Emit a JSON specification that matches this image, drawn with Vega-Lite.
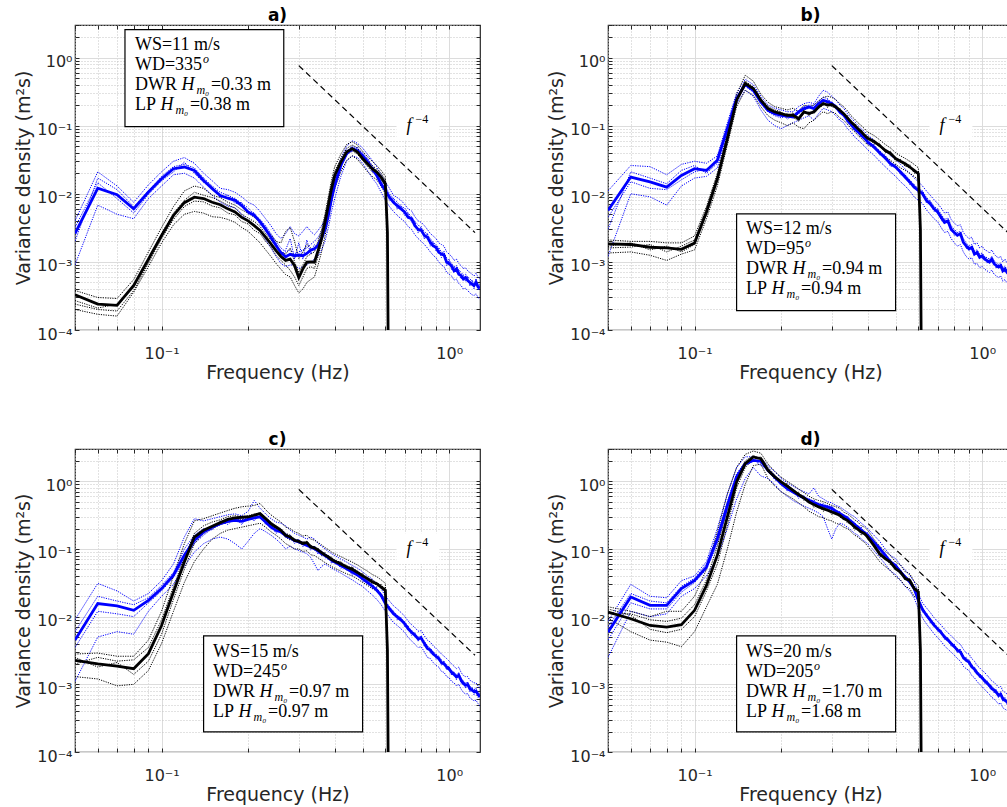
{
"$schema": "https://vega.github.io/schema/vega-lite/v6.json",
"background": "#ffffff",
"padding": {"left": 14, "top": 6, "right": 0, "bottom": 0},
"autosize": {"type": "pad"},
"columns": 2,
"spacing": {"row": 119, "column": 128},
"bounds": "flush",
"config": {
  "font": "DejaVu Sans",
  "view": {"stroke": "#262626", "strokeWidth": 1.2},
  "axis": {"domain": false, "labelFont": "DejaVu Sans", "labelFontSize": 16, "labelColor": "#262626", "titleFont": "DejaVu Sans", "titleFontSize": 19, "titleFontWeight": "normal", "titleColor": "#262626", "tickColor": "#262626", "tickSize": -4, "tickWidth": 1, "labelOverlap": false, "labelFlush": false, "gridWidth": 1},
  "axisX": {"labelPadding": 19, "titlePadding": 2},
  "axisY": {"labelPadding": 7, "titlePadding": 3, "labelOffset": 4},
  "title": {"font": "DejaVu Sans", "fontSize": 17, "fontWeight": "bold", "color": "#000000", "offset": -4, "frame": "group", "anchor": "middle"},
  "text": {"font": "Liberation Serif", "fontSize": 18, "align": "left", "baseline": "alphabetic", "color": "#000000"}
},
"datasets": {
"a": [
{"f":0.05,"d":2.6e-3,"d1":4e-3,"d2":9e-4,"d3":2e-3,"d4":3.2e-3,"l":3.3e-4,"l1":3.8e-4,"l2":2e-4,"l3":2.7e-4,"l4":2.4e-4},
{"f":0.06,"d":0.0121,"d1":0.021,"d2":6.8e-3,"d3":0.017,"d4":0.0145,"l":2.4e-4,"l1":3e-4,"l2":1.7e-4,"l3":2.1e-4,"l4":2e-4},
{"f":0.07,"d":9.7e-3,"d1":0.013,"d2":5e-3,"d3":0.0115,"d4":8.5e-3,"l":2.3e-4,"l1":2.9e-4,"l2":1.6e-4,"l3":2.4e-4,"l4":1.9e-4},
{"f":0.08,"d":6e-3,"d1":7.5e-3,"d2":4.3e-3,"d3":6.5e-3,"d4":5.2e-3,"l":4.5e-4,"l1":5.5e-4,"l2":3.6e-4,"l3":4.2e-4,"l4":3.8e-4},
{"f":0.09,"d":0.0106,"d1":0.0135,"d2":8.5e-3,"d3":0.011,"d4":9.8e-3,"l":1.1e-3,"l1":1.4e-3,"l2":8.5e-4,"l3":1e-3,"l4":9.5e-4},
{"f":0.1,"d":0.0166,"d1":0.021,"d2":0.013,"d3":0.018,"d4":0.0155,"l":2.44e-3,"l1":3.2e-3,"l2":1.9e-3,"l3":2.6e-3,"l4":2.2e-3},
{"f":0.11,"d":0.0233,"d1":0.03,"d2":0.019,"d3":0.025,"d4":0.021,"l":4.8e-3,"l1":6.5e-3,"l2":3.5e-3,"l3":5.2e-3,"l4":4.2e-3},
{"f":0.12,"d":0.0247,"d1":0.034,"d2":0.02,"d3":0.027,"d4":0.029,"l":7.4e-3,"l1":0.011,"l2":5e-3,"l3":8e-3,"l4":6.5e-3},
{"f":0.13,"d":0.022,"d1":0.028,"d2":0.017,"d3":0.024,"d4":0.02,"l":8.9e-3,"l1":0.013,"l2":5.5e-3,"l3":0.0105,"l4":7.8e-3},
{"f":0.14,"d":0.0157,"d1":0.02,"d2":0.0125,"d3":0.017,"d4":0.0145,"l":8.5e-3,"l1":0.012,"l2":5.2e-3,"l3":9.5e-3,"l4":7.6e-3},
{"f":0.15,"d":0.0119,"d1":0.0155,"d2":9.5e-3,"d3":0.013,"d4":0.0125,"l":7.5e-3,"l1":9.5e-3,"l2":4.6e-3,"l3":8.8e-3,"l4":6.6e-3},
{"f":0.16,"d":9.4e-3,"d1":0.012,"d2":7.5e-3,"d3":0.0105,"d4":8.8e-3,"l":6.9e-3,"l1":8.8e-3,"l2":4.5e-3,"l3":7.8e-3,"l4":6.2e-3},
{"f":0.17,"d":8.6e-3,"d1":0.0115,"d2":6.6e-3,"d3":9.5e-3,"d4":9.5e-3,"l":6e-3,"l1":7.5e-3,"l2":4.2e-3,"l3":6.8e-3,"l4":5.2e-3},
{"f":0.18,"d":8e-3,"d1":0.0105,"d2":6.2e-3,"d3":8.5e-3,"d4":7.2e-3,"l":5.4e-3,"l1":6.8e-3,"l2":3.8e-3,"l3":6.2e-3,"l4":4.9e-3},
{"f":0.19,"d":6.7e-3,"d1":9e-3,"d2":5e-3,"d3":7.2e-3,"d4":7.4e-3,"l":4.5e-3,"l1":5.8e-3,"l2":3.2e-3,"l3":5e-3,"l4":3.9e-3},
{"f":0.2,"d":5.4e-3,"d1":7.5e-3,"d2":4e-3,"d3":6.2e-3,"d4":5e-3,"l":4e-3,"l1":5.2e-3,"l2":2.8e-3,"l3":4.4e-3,"l4":3.6e-3},
{"f":0.21,"d":4.8e-3,"d1":6.8e-3,"d2":3.4e-3,"d3":5e-3,"d4":5.3e-3,"l":3.4e-3,"l1":4.5e-3,"l2":2.3e-3,"l3":3.9e-3,"l4":2.9e-3},
{"f":0.22,"d":3.9e-3,"d1":5.5e-3,"d2":2.8e-3,"d3":4.2e-3,"d4":3.5e-3,"l":2.9e-3,"l1":3.9e-3,"l2":1.9e-3,"l3":3.3e-3,"l4":2.6e-3},
{"f":0.23,"d":3e-3,"d1":4.3e-3,"d2":2.1e-3,"d3":3.4e-3,"d4":3.3e-3,"l":2.3e-3,"l1":3.1e-3,"l2":1.5e-3,"l3":2.6e-3,"l4":2e-3},
{"f":0.24,"d":2.3e-3,"d1":3.4e-3,"d2":1.6e-3,"d3":2.6e-3,"d4":2.1e-3,"l":1.84e-3,"l1":2.5e-3,"l2":1.2e-3,"l3":2.1e-3,"l4":1.65e-3},
{"f":0.25,"d":1.74e-3,"d1":2.6e-3,"d2":1.2e-3,"d3":2e-3,"d4":1.9e-3,"l":1.46e-3,"l1":2e-3,"l2":9.5e-4,"l3":1.7e-3,"l4":1.25e-3},
{"f":0.26,"d":1.37e-3,"d1":2.2e-3,"d2":9.5e-4,"d3":1.6e-3,"d4":1.25e-3,"l":1.2e-3,"l1":1.9e-3,"l2":7.8e-4,"l3":1.4e-3,"l4":1.05e-3},
{"f":0.27,"d":1.19e-3,"d1":2.6e-3,"d2":8.5e-4,"d3":1.4e-3,"d4":1.5e-3,"l":1.05e-3,"l1":2.8e-3,"l2":6.5e-4,"l3":1.3e-3,"l4":9e-4},
{"f":0.28,"d":1.29e-3,"d1":3.3e-3,"d2":9e-4,"d3":1.5e-3,"d4":2.2e-3,"l":1.1e-3,"l1":3.2e-3,"l2":6e-4,"l3":1.6e-3,"l4":7.5e-4},
{"f":0.29,"d":1.23e-3,"d1":2.6e-3,"d2":9e-4,"d3":1.3e-3,"d4":1.1e-3,"l":8.8e-4,"l1":2e-3,"l2":4.5e-4,"l3":1e-3,"l4":6e-4},
{"f":0.3,"d":1.26e-3,"d1":2.4e-3,"d2":8e-4,"d3":1.4e-3,"d4":1.9e-3,"l":5.9e-4,"l1":1.1e-3,"l2":3.5e-4,"l3":7e-4,"l4":4.5e-4},
{"f":0.31,"d":1.23e-3,"d1":2.8e-3,"d2":8.5e-4,"d3":1.5e-3,"d4":1.1e-3,"l":7.9e-4,"l1":1.4e-3,"l2":4e-4,"l3":9e-4,"l4":6e-4},
{"f":0.32,"d":1.33e-3,"d1":3.3e-3,"d2":9e-4,"d3":1.6e-3,"d4":2.1e-3,"l":9.9e-4,"l1":1.8e-3,"l2":5e-4,"l3":1.2e-3,"l4":8e-4},
{"f":0.33,"d":1.49e-3,"d1":2.8e-3,"d2":1e-3,"d3":1.8e-3,"d4":1.3e-3,"l":1e-3,"l1":1.6e-3,"l2":5.5e-4,"l3":1.3e-3,"l4":8.5e-4},
{"f":0.34,"d":1.56e-3,"d1":2.5e-3,"d2":1.1e-3,"d3":2e-3,"d4":1.8e-3,"l":9.9e-4,"l1":1.5e-3,"l2":6e-4,"l3":1.4e-3,"l4":8e-4},
{"f":0.35,"d":1.74e-3,"d1":2.9e-3,"d2":1.2e-3,"d3":2.3e-3,"d4":1.6e-3,"l":1.46e-3,"l1":2e-3,"l2":9e-4,"l3":1.9e-3,"l4":1.2e-3},
{"f":0.36,"d":2.2e-3,"d1":3.4e-3,"d2":1.5e-3,"d3":2.8e-3,"d4":2.5e-3,"l":2.2e-3,"l1":3e-3,"l2":1.4e-3,"l3":2.7e-3,"l4":1.9e-3},
{"f":0.37,"d":3e-3,"d1":4.2e-3,"d2":2e-3,"d3":3.6e-3,"d4":2.7e-3,"l":3.8e-3,"l1":5e-3,"l2":2.4e-3,"l3":4.5e-3,"l4":3.2e-3},
{"f":0.38,"d":4.8e-3,"d1":6.5e-3,"d2":3.2e-3,"d3":5.5e-3,"d4":5.4e-3,"l":6.7e-3,"l1":9e-3,"l2":4.2e-3,"l3":8e-3,"l4":5.8e-3},
{"f":0.39,"d":8.5e-3,"d1":0.011,"d2":5.5e-3,"d3":9.5e-3,"d4":7.6e-3,"l":0.0119,"l1":0.016,"l2":7.5e-3,"l3":0.014,"l4":0.0105},
{"f":0.4,"d":0.0132,"d1":0.017,"d2":8.5e-3,"d3":0.015,"d4":0.0148,"l":0.0186,"l1":0.025,"l2":0.012,"l3":0.021,"l4":0.0165},
{"f":0.42,"d":0.026,"d1":0.033,"d2":0.018,"d3":0.029,"d4":0.023,"l":0.0292,"l1":0.038,"l2":0.021,"l3":0.033,"l4":0.026},
{"f":0.44,"d":0.0388,"d1":0.05,"d2":0.03,"d3":0.042,"d4":0.044,"l":0.041,"l1":0.053,"l2":0.031,"l3":0.046,"l4":0.037},
{"f":0.46,"d":0.046,"d1":0.06,"d2":0.036,"d3":0.05,"d4":0.041,"l":0.046,"l1":0.058,"l2":0.036,"l3":0.052,"l4":0.043},
{"f":0.48,"d":0.043,"d1":0.055,"d2":0.034,"d3":0.046,"d4":0.049,"l":0.041,"l1":0.052,"l2":0.032,"l3":0.047,"l4":0.038},
{"f":0.5,"d":0.0366,"d1":0.047,"d2":0.028,"d3":0.04,"d4":0.032,"l":0.0329,"l1":0.042,"l2":0.026,"l3":0.037,"l4":0.031},
{"f":0.52,"d":0.0292,"d1":0.038,"d2":0.022,"d3":0.033,"d4":0.033,"l":0.0276,"l1":0.035,"l2":0.021,"l3":0.031,"l4":0.025},
{"f":0.54,"d":0.0233,"d1":0.031,"d2":0.017,"d3":0.026,"d4":0.021,"l":0.0233,"l1":0.03,"l2":0.018,"l3":0.026,"l4":0.021},
{"f":0.56,"d":0.0185,"d1":0.025,"d2":0.014,"d3":0.021,"d4":0.021,"l":0.0208,"l1":0.026,"l2":0.016,"l3":0.023,"l4":0.019},
{"f":0.58,"d":0.014,"d1":0.019,"d2":0.0105,"d3":0.016,"d4":0.0125,"l":0.0175,"l1":0.022,"l2":0.013,"l3":0.02,"l4":0.016},
{"f":0.6,"d":0.0112,"d1":0.015,"d2":8e-3,"d3":0.013,"d4":0.0128,"l":0.014,"l1":0.018,"l2":0.01,"l3":0.016,"l4":0.013},
{"f":0.61,"l":2.7e-3,"l1":3.2e-3,"l2":2e-3,"l3":2.9e-3,"l4":2.6e-3},
{"f":0.62,"d":8.9e-3,"d1":0.012,"d2":6.5e-3,"d3":0.01,"d4":7.9e-3,"l":1e-7,"l1":1e-7,"l2":1e-7,"l3":1e-7,"l4":1e-7},
{"f":0.64,"d":7.5e-3,"d1":9.5e-3,"d2":5.5e-3,"d3":8.5e-3,"d4":8.6e-3},
{"f":0.66,"d":6.7e-3,"d1":8.8e-3,"d2":4.8e-3,"d3":7.5e-3,"d4":5.9e-3},
{"f":0.68,"d":6e-3,"d1":8e-3,"d2":4.3e-3,"d3":6.4e-3,"d4":6.9e-3},
{"f":0.7,"d":5.4e-3,"d1":7e-3,"d2":3.9e-3,"d3":6.2e-3,"d4":4.8e-3},
{"f":0.72,"d":4.5e-3,"d1":6e-3,"d2":3.3e-3,"d3":5.2e-3,"d4":5.2e-3},
{"f":0.74,"d":4.3e-3,"d1":5.6e-3,"d2":3e-3,"d3":4.6e-3,"d4":3.8e-3},
{"f":0.76,"d":3.4e-3,"d1":4.6e-3,"d2":2.5e-3,"d3":3.9e-3,"d4":3.9e-3},
{"f":0.78,"d":3e-3,"d1":4e-3,"d2":2.2e-3,"d3":3.5e-3,"d4":2.65e-3},
{"f":0.8,"d":2.9e-3,"d1":3.8e-3,"d2":2e-3,"d3":3.1e-3,"d4":3.3e-3},
{"f":0.82,"d":2.45e-3,"d1":3.4e-3,"d2":1.8e-3,"d3":2.8e-3,"d4":2.15e-3},
{"f":0.84,"d":2.3e-3,"d1":3e-3,"d2":1.6e-3,"d3":2.5e-3,"d4":2.65e-3},
{"f":0.86,"d":1.93e-3,"d1":2.6e-3,"d2":1.4e-3,"d3":2.2e-3,"d4":1.7e-3},
{"f":0.88,"d":1.72e-3,"d1":2.4e-3,"d2":1.25e-3,"d3":1.9e-3,"d4":1.98e-3},
{"f":0.9,"d":1.64e-3,"d1":2.2e-3,"d2":1.15e-3,"d3":1.8e-3,"d4":1.45e-3},
{"f":0.92,"d":1.38e-3,"d1":1.9e-3,"d2":1e-3,"d3":1.6e-3,"d4":1.59e-3},
{"f":0.94,"d":1.3e-3,"d1":1.8e-3,"d2":9e-4,"d3":1.4e-3,"d4":1.15e-3},
{"f":0.96,"d":1.25e-3,"d1":1.7e-3,"d2":8.5e-4,"d3":1.35e-3,"d4":1.44e-3},
{"f":0.98,"d":9.9e-4,"d1":1.4e-3,"d2":7e-4,"d3":1.15e-3,"d4":8.8e-4},
{"f":1,"d":9.4e-4,"d1":1.3e-3,"d2":6.6e-4,"d3":1.05e-3,"d4":1.08e-3},
{"f":1.02,"d":8.7e-4,"d1":1.2e-3,"d2":6.2e-4,"d3":9.5e-4,"d4":7.7e-4},
{"f":1.04,"d":7.4e-4,"d1":1.05e-3,"d2":5.4e-4,"d3":8.5e-4,"d4":8.5e-4},
{"f":1.06,"d":7.9e-4,"d1":1.1e-3,"d2":5.6e-4,"d3":8.8e-4,"d4":7e-4},
{"f":1.08,"d":6.6e-4,"d1":9.5e-4,"d2":4.8e-4,"d3":7.6e-4,"d4":7.6e-4},
{"f":1.1,"d":6.3e-4,"d1":8.8e-4,"d2":4.5e-4,"d3":7e-4,"d4":5.6e-4},
{"f":1.12,"d":5.6e-4,"d1":8e-4,"d2":4e-4,"d3":6.4e-4,"d4":6.4e-4},
{"f":1.14,"d":5.9e-4,"d1":8.2e-4,"d2":4.1e-4,"d3":6.6e-4,"d4":5.2e-4},
{"f":1.16,"d":5.3e-4,"d1":7.4e-4,"d2":3.8e-4,"d3":6e-4,"d4":6.1e-4},
{"f":1.18,"d":5e-4,"d1":7e-4,"d2":3.5e-4,"d3":5.6e-4,"d4":4.4e-4},
{"f":1.2,"d":4.7e-4,"d1":6.6e-4,"d2":3.3e-4,"d3":5.3e-4,"d4":5.4e-4},
{"f":1.22,"d":4.5e-4,"d1":6.2e-4,"d2":3.2e-4,"d3":5e-4,"d4":4e-4},
{"f":1.24,"d":5e-4,"d1":6.8e-4,"d2":3.4e-4,"d3":5.4e-4,"d4":5.7e-4},
{"f":1.26,"d":4.3e-4,"d1":6e-4,"d2":3e-4,"d3":4.8e-4,"d4":3.8e-4},
{"f":1.28,"d":4.1e-4,"d1":5.6e-4,"d2":2.9e-4,"d3":4.5e-4,"d4":4.7e-4}
],
"b": [
{"f":0.05,"d":5.7e-3,"d1":0.011,"d2":1.2e-3,"d3":4.5e-3,"d4":3e-3,"l":1.84e-3,"l1":2.1e-3,"l2":1.35e-3,"l3":1.7e-3,"l4":1.6e-3},
{"f":0.06,"d":0.0176,"d1":0.026,"d2":0.01,"d3":0.015,"d4":0.021,"l":1.8e-3,"l1":2e-3,"l2":1.4e-3,"l3":1.9e-3,"l4":1.65e-3},
{"f":0.07,"d":0.0149,"d1":0.025,"d2":9e-3,"d3":0.012,"d4":0.017,"l":1.64e-3,"l1":2e-3,"l2":1.25e-3,"l3":1.5e-3,"l4":1.8e-3},
{"f":0.08,"d":0.0125,"d1":0.019,"d2":6.8e-3,"d3":0.0115,"d4":0.014,"l":1.6e-3,"l1":1.9e-3,"l2":1.05e-3,"l3":1.7e-3,"l4":1.4e-3},
{"f":0.09,"d":0.0186,"d1":0.027,"d2":0.013,"d3":0.016,"d4":0.022,"l":1.53e-3,"l1":1.9e-3,"l2":1.3e-3,"l3":1.4e-3,"l4":1.7e-3},
{"f":0.1,"d":0.0233,"d1":0.03,"d2":0.017,"d3":0.021,"d4":0.026,"l":1.9e-3,"l1":2.4e-3,"l2":1.5e-3,"l3":1.8e-3,"l4":2.1e-3},
{"f":0.11,"d":0.022,"d1":0.028,"d2":0.018,"d3":0.023,"d4":0.02,"l":5.4e-3,"l1":6.5e-3,"l2":4.3e-3,"l3":5e-3,"l4":6e-3},
{"f":0.12,"d":0.031,"d1":0.036,"d2":0.024,"d3":0.03,"d4":0.028,"l":0.0166,"l1":0.02,"l2":0.013,"l3":0.016,"l4":0.018},
{"f":0.13,"d":0.09,"d1":0.11,"d2":0.075,"d3":0.085,"d4":0.095,"l":0.064,"l1":0.075,"l2":0.052,"l3":0.062,"l4":0.07},
{"f":0.14,"d":0.25,"d1":0.3,"d2":0.21,"d3":0.24,"d4":0.27,"l":0.236,"l1":0.29,"l2":0.19,"l3":0.23,"l4":0.25},
{"f":0.15,"d":0.4,"d1":0.48,"d2":0.33,"d3":0.38,"d4":0.43,"l":0.415,"l1":0.55,"l2":0.33,"l3":0.4,"l4":0.45},
{"f":0.16,"d":0.33,"d1":0.4,"d2":0.27,"d3":0.31,"d4":0.35,"l":0.35,"l1":0.45,"l2":0.28,"l3":0.34,"l4":0.37},
{"f":0.17,"d":0.223,"d1":0.27,"d2":0.17,"d3":0.21,"d4":0.24,"l":0.236,"l1":0.29,"l2":0.19,"l3":0.22,"l4":0.25},
{"f":0.18,"d":0.168,"d1":0.2,"d2":0.12,"d3":0.16,"d4":0.18,"l":0.178,"l1":0.22,"l2":0.14,"l3":0.17,"l4":0.19},
{"f":0.19,"d":0.15,"d1":0.18,"d2":0.1,"d3":0.14,"d4":0.16,"l":0.159,"l1":0.19,"l2":0.12,"l3":0.15,"l4":0.17},
{"f":0.2,"d":0.142,"d1":0.17,"d2":0.09,"d3":0.13,"d4":0.15,"l":0.15,"l1":0.18,"l2":0.11,"l3":0.14,"l4":0.16},
{"f":0.21,"d":0.138,"d1":0.16,"d2":0.1,"d3":0.14,"d4":0.125,"l":0.142,"l1":0.17,"l2":0.1,"l3":0.15,"l4":0.13},
{"f":0.22,"d":0.134,"d1":0.16,"d2":0.11,"d3":0.13,"d4":0.14,"l":0.142,"l1":0.18,"l2":0.11,"l3":0.13,"l4":0.155},
{"f":0.23,"d":0.159,"d1":0.19,"d2":0.12,"d3":0.15,"d4":0.17,"l":0.127,"l1":0.16,"l2":0.095,"l3":0.12,"l4":0.115},
{"f":0.24,"d":0.178,"d1":0.21,"d2":0.13,"d3":0.17,"d4":0.19,"l":0.159,"l1":0.2,"l2":0.09,"l3":0.15,"l4":0.17},
{"f":0.25,"d":0.188,"d1":0.22,"d2":0.14,"d3":0.18,"d4":0.2,"l":0.15,"l1":0.19,"l2":0.11,"l3":0.16,"l4":0.14},
{"f":0.26,"d":0.178,"d1":0.21,"d2":0.12,"d3":0.19,"d4":0.2,"l":0.159,"l1":0.2,"l2":0.12,"l3":0.15,"l4":0.17},
{"f":0.27,"d":0.211,"d1":0.27,"d2":0.15,"d3":0.2,"d4":0.23,"l":0.188,"l1":0.23,"l2":0.14,"l3":0.18,"l4":0.2},
{"f":0.28,"d":0.236,"d1":0.33,"d2":0.18,"d3":0.22,"d4":0.26,"l":0.211,"l1":0.26,"l2":0.16,"l3":0.2,"l4":0.23},
{"f":0.29,"d":0.223,"d1":0.31,"d2":0.17,"d3":0.24,"d4":0.25,"l":0.2,"l1":0.27,"l2":0.15,"l3":0.21,"l4":0.185},
{"f":0.3,"d":0.211,"d1":0.27,"d2":0.16,"d3":0.22,"d4":0.2,"l":0.204,"l1":0.26,"l2":0.16,"l3":0.19,"l4":0.22},
{"f":0.31,"d":0.188,"d1":0.24,"d2":0.14,"d3":0.19,"d4":0.2,"l":0.188,"l1":0.24,"l2":0.15,"l3":0.18,"l4":0.175},
{"f":0.32,"d":0.159,"d1":0.2,"d2":0.12,"d3":0.17,"d4":0.15,"l":0.168,"l1":0.21,"l2":0.13,"l3":0.16,"l4":0.18},
{"f":0.33,"d":0.142,"d1":0.18,"d2":0.11,"d3":0.15,"d4":0.15,"l":0.15,"l1":0.19,"l2":0.12,"l3":0.145,"l4":0.138},
{"f":0.34,"d":0.12,"d1":0.15,"d2":0.09,"d3":0.125,"d4":0.11,"l":0.13,"l1":0.165,"l2":0.105,"l3":0.125,"l4":0.14},
{"f":0.35,"d":0.104,"d1":0.13,"d2":0.08,"d3":0.11,"d4":0.108,"l":0.113,"l1":0.14,"l2":0.09,"l3":0.11,"l4":0.104},
{"f":0.36,"d":0.09,"d1":0.115,"d2":0.068,"d3":0.095,"d4":0.085,"l":0.101,"l1":0.125,"l2":0.082,"l3":0.098,"l4":0.108},
{"f":0.37,"d":0.081,"d1":0.1,"d2":0.062,"d3":0.085,"d4":0.087,"l":0.09,"l1":0.11,"l2":0.072,"l3":0.088,"l4":0.083},
{"f":0.38,"d":0.072,"d1":0.09,"d2":0.055,"d3":0.075,"d4":0.067,"l":0.081,"l1":0.1,"l2":0.065,"l3":0.078,"l4":0.087},
{"f":0.39,"d":0.065,"d1":0.082,"d2":0.05,"d3":0.068,"d4":0.069,"l":0.072,"l1":0.09,"l2":0.058,"l3":0.07,"l4":0.066},
{"f":0.4,"d":0.0575,"d1":0.072,"d2":0.044,"d3":0.06,"d4":0.053,"l":0.065,"l1":0.08,"l2":0.052,"l3":0.063,"l4":0.07},
{"f":0.42,"d":0.0487,"d1":0.062,"d2":0.037,"d3":0.051,"d4":0.053,"l":0.059,"l1":0.072,"l2":0.048,"l3":0.056,"l4":0.054},
{"f":0.44,"d":0.0401,"d1":0.051,"d2":0.03,"d3":0.043,"d4":0.037,"l":0.051,"l1":0.062,"l2":0.041,"l3":0.049,"l4":0.055},
{"f":0.46,"d":0.0335,"d1":0.043,"d2":0.025,"d3":0.036,"d4":0.037,"l":0.0435,"l1":0.053,"l2":0.035,"l3":0.042,"l4":0.04},
{"f":0.48,"d":0.0276,"d1":0.036,"d2":0.021,"d3":0.029,"d4":0.025,"l":0.039,"l1":0.047,"l2":0.031,"l3":0.037,"l4":0.042},
{"f":0.5,"d":0.0247,"d1":0.032,"d2":0.018,"d3":0.026,"d4":0.027,"l":0.033,"l1":0.04,"l2":0.027,"l3":0.032,"l4":0.03},
{"f":0.52,"d":0.0208,"d1":0.027,"d2":0.015,"d3":0.022,"d4":0.019,"l":0.03,"l1":0.036,"l2":0.024,"l3":0.029,"l4":0.032},
{"f":0.54,"d":0.0175,"d1":0.023,"d2":0.013,"d3":0.019,"d4":0.019,"l":0.0276,"l1":0.033,"l2":0.022,"l3":0.026,"l4":0.025},
{"f":0.56,"d":0.0149,"d1":0.02,"d2":0.011,"d3":0.016,"d4":0.0136,"l":0.0247,"l1":0.03,"l2":0.02,"l3":0.024,"l4":0.027},
{"f":0.58,"d":0.0125,"d1":0.017,"d2":9e-3,"d3":0.0135,"d4":0.0137,"l":0.022,"l1":0.027,"l2":0.018,"l3":0.021,"l4":0.02},
{"f":0.6,"d":0.0112,"d1":0.015,"d2":8e-3,"d3":0.012,"d4":0.0102,"l":0.0197,"l1":0.024,"l2":0.016,"l3":0.019,"l4":0.021},
{"f":0.61,"l":3e-3,"l1":3.5e-3,"l2":2.5e-3,"l3":3e-3,"l4":3e-3},
{"f":0.62,"d":0.01,"d1":0.013,"d2":7.2e-3,"d3":0.011,"d4":0.011,"l":1e-7,"l1":1e-7,"l2":1e-7,"l3":1e-7,"l4":1e-7},
{"f":0.64,"d":8e-3,"d1":0.011,"d2":5.8e-3,"d3":8.8e-3,"d4":7.3e-3},
{"f":0.66,"d":7.1e-3,"d1":9.5e-3,"d2":5e-3,"d3":7.8e-3,"d4":7.9e-3},
{"f":0.68,"d":6e-3,"d1":8.2e-3,"d2":4.3e-3,"d3":6.5e-3,"d4":5.5e-3},
{"f":0.7,"d":5.4e-3,"d1":7.2e-3,"d2":3.9e-3,"d3":6e-3,"d4":6e-3},
{"f":0.72,"d":4.5e-3,"d1":6.2e-3,"d2":3.2e-3,"d3":5e-3,"d4":4.1e-3},
{"f":0.74,"d":3.8e-3,"d1":5.2e-3,"d2":2.7e-3,"d3":4.2e-3,"d4":4.2e-3},
{"f":0.76,"d":4e-3,"d1":5.4e-3,"d2":2.8e-3,"d3":4.4e-3,"d4":3.6e-3},
{"f":0.78,"d":3e-3,"d1":4.2e-3,"d2":2.2e-3,"d3":3.4e-3,"d4":3.3e-3},
{"f":0.8,"d":2.7e-3,"d1":3.7e-3,"d2":1.9e-3,"d3":3e-3,"d4":2.45e-3},
{"f":0.82,"d":2.45e-3,"d1":3.4e-3,"d2":1.7e-3,"d3":2.7e-3,"d4":2.7e-3},
{"f":0.84,"d":2.6e-3,"d1":3.5e-3,"d2":1.8e-3,"d3":2.8e-3,"d4":2.35e-3},
{"f":0.86,"d":1.93e-3,"d1":2.7e-3,"d2":1.4e-3,"d3":2.2e-3,"d4":2.1e-3},
{"f":0.88,"d":1.72e-3,"d1":2.4e-3,"d2":1.2e-3,"d3":1.9e-3,"d4":1.56e-3},
{"f":0.9,"d":1.55e-3,"d1":2.2e-3,"d2":1.1e-3,"d3":1.7e-3,"d4":1.7e-3},
{"f":0.92,"d":1.64e-3,"d1":2.3e-3,"d2":1.15e-3,"d3":1.8e-3,"d4":1.48e-3},
{"f":0.94,"d":1.3e-3,"d1":1.8e-3,"d2":9.2e-4,"d3":1.45e-3,"d4":1.43e-3},
{"f":0.96,"d":1.38e-3,"d1":1.9e-3,"d2":9.5e-4,"d3":1.5e-3,"d4":1.25e-3},
{"f":0.98,"d":1.17e-3,"d1":1.6e-3,"d2":8.2e-4,"d3":1.3e-3,"d4":1.29e-3},
{"f":1,"d":1.23e-3,"d1":1.7e-3,"d2":8.6e-4,"d3":1.35e-3,"d4":1.1e-3},
{"f":1.02,"d":1.1e-3,"d1":1.5e-3,"d2":7.8e-4,"d3":1.2e-3,"d4":1.21e-3},
{"f":1.04,"d":1.05e-3,"d1":1.45e-3,"d2":7.4e-4,"d3":1.15e-3,"d4":9.5e-4},
{"f":1.06,"d":9.9e-4,"d1":1.35e-3,"d2":7e-4,"d3":1.1e-3,"d4":1.09e-3},
{"f":1.08,"d":1.1e-3,"d1":1.5e-3,"d2":7.6e-4,"d3":1.2e-3,"d4":9.9e-4},
{"f":1.1,"d":9.4e-4,"d1":1.3e-3,"d2":6.6e-4,"d3":1.05e-3,"d4":1.03e-3},
{"f":1.12,"d":8.8e-4,"d1":1.2e-3,"d2":6.2e-4,"d3":9.6e-4,"d4":8e-4},
{"f":1.14,"d":8.4e-4,"d1":1.15e-3,"d2":5.9e-4,"d3":9.2e-4,"d4":9.2e-4},
{"f":1.16,"d":8.8e-4,"d1":1.2e-3,"d2":6.2e-4,"d3":9.6e-4,"d4":7.9e-4},
{"f":1.18,"d":7.4e-4,"d1":1e-3,"d2":5.2e-4,"d3":8.2e-4,"d4":8.1e-4},
{"f":1.2,"d":7.9e-4,"d1":1.1e-3,"d2":5.5e-4,"d3":8.6e-4,"d4":7.1e-4},
{"f":1.22,"d":7e-4,"d1":9.6e-4,"d2":4.9e-4,"d3":7.7e-4,"d4":7.7e-4},
{"f":1.24,"d":6.5e-4,"d1":9e-4,"d2":4.6e-4,"d3":7.2e-4,"d4":5.9e-4},
{"f":1.26,"d":6.8e-4,"d1":9.3e-4,"d2":4.8e-4,"d3":7.4e-4,"d4":7.5e-4},
{"f":1.28,"d":6e-4,"d1":8.2e-4,"d2":4.2e-4,"d3":6.6e-4,"d4":5.4e-4}
],
"c": [
{"f":0.05,"d":4.5e-3,"d1":9e-3,"d2":1.1e-3,"d3":3.5e-3,"d4":6e-3,"l":2.26e-3,"l1":2.8e-3,"l2":1.3e-3,"l3":2e-3,"l4":2.5e-3},
{"f":0.06,"d":0.0156,"d1":0.031,"d2":5e-3,"d3":0.012,"d4":0.02,"l":2e-3,"l1":2.9e-3,"l2":1.2e-3,"l3":2.5e-3,"l4":1.8e-3},
{"f":0.07,"d":0.0144,"d1":0.024,"d2":6e-3,"d3":0.011,"d4":0.017,"l":1.86e-3,"l1":2.6e-3,"l2":9.5e-4,"l3":2.2e-3,"l4":2.1e-3},
{"f":0.08,"d":0.0124,"d1":0.017,"d2":5.5e-3,"d3":0.01,"d4":0.015,"l":1.7e-3,"l1":2.6e-3,"l2":1e-3,"l3":2.3e-3,"l4":1.4e-3},
{"f":0.09,"d":0.0174,"d1":0.022,"d2":0.012,"d3":0.016,"d4":0.019,"l":2.84e-3,"l1":4.5e-3,"l2":1.6e-3,"l3":3.5e-3,"l4":2.2e-3},
{"f":0.1,"d":0.026,"d1":0.034,"d2":0.02,"d3":0.024,"d4":0.029,"l":7.4e-3,"l1":0.012,"l2":4e-3,"l3":9e-3,"l4":5.5e-3},
{"f":0.11,"d":0.041,"d1":0.06,"d2":0.03,"d3":0.038,"d4":0.045,"l":0.0232,"l1":0.04,"l2":0.012,"l3":0.028,"l4":0.018},
{"f":0.12,"d":0.081,"d1":0.15,"d2":0.055,"d3":0.07,"d4":0.1,"l":0.064,"l1":0.12,"l2":0.032,"l3":0.075,"l4":0.05},
{"f":0.13,"d":0.134,"d1":0.28,"d2":0.09,"d3":0.12,"d4":0.16,"l":0.15,"l1":0.26,"l2":0.065,"l3":0.17,"l4":0.12},
{"f":0.14,"d":0.178,"d1":0.26,"d2":0.12,"d3":0.16,"d4":0.2,"l":0.189,"l1":0.28,"l2":0.1,"l3":0.22,"l4":0.17},
{"f":0.15,"d":0.211,"d1":0.28,"d2":0.14,"d3":0.2,"d4":0.19,"l":0.216,"l1":0.31,"l2":0.14,"l3":0.25,"l4":0.2},
{"f":0.16,"d":0.237,"d1":0.3,"d2":0.15,"d3":0.23,"d4":0.26,"l":0.245,"l1":0.34,"l2":0.17,"l3":0.27,"l4":0.23},
{"f":0.17,"d":0.256,"d1":0.32,"d2":0.14,"d3":0.25,"d4":0.23,"l":0.274,"l1":0.37,"l2":0.19,"l3":0.3,"l4":0.25},
{"f":0.18,"d":0.265,"d1":0.33,"d2":0.12,"d3":0.27,"d4":0.29,"l":0.287,"l1":0.4,"l2":0.2,"l3":0.31,"l4":0.27},
{"f":0.19,"d":0.256,"d1":0.31,"d2":0.1,"d3":0.28,"d4":0.23,"l":0.294,"l1":0.42,"l2":0.21,"l3":0.3,"l4":0.27},
{"f":0.2,"d":0.274,"d1":0.36,"d2":0.13,"d3":0.29,"d4":0.3,"l":0.297,"l1":0.43,"l2":0.22,"l3":0.31,"l4":0.28},
{"f":0.21,"d":0.287,"d1":0.52,"d2":0.17,"d3":0.3,"d4":0.26,"l":0.315,"l1":0.44,"l2":0.23,"l3":0.33,"l4":0.29},
{"f":0.22,"d":0.297,"d1":0.4,"d2":0.2,"d3":0.31,"d4":0.33,"l":0.333,"l1":0.47,"l2":0.24,"l3":0.34,"l4":0.3},
{"f":0.23,"d":0.251,"d1":0.33,"d2":0.18,"d3":0.26,"d4":0.23,"l":0.281,"l1":0.38,"l2":0.21,"l3":0.29,"l4":0.26},
{"f":0.24,"d":0.211,"d1":0.28,"d2":0.16,"d3":0.22,"d4":0.23,"l":0.237,"l1":0.32,"l2":0.18,"l3":0.25,"l4":0.22},
{"f":0.25,"d":0.189,"d1":0.25,"d2":0.14,"d3":0.2,"d4":0.17,"l":0.211,"l1":0.28,"l2":0.16,"l3":0.22,"l4":0.2},
{"f":0.26,"d":0.178,"d1":0.24,"d2":0.12,"d3":0.19,"d4":0.195,"l":0.189,"l1":0.25,"l2":0.14,"l3":0.2,"l4":0.175},
{"f":0.27,"d":0.159,"d1":0.22,"d2":0.1,"d3":0.17,"d4":0.145,"l":0.159,"l1":0.21,"l2":0.12,"l3":0.17,"l4":0.15},
{"f":0.28,"d":0.145,"d1":0.19,"d2":0.11,"d3":0.15,"d4":0.16,"l":0.15,"l1":0.2,"l2":0.11,"l3":0.16,"l4":0.135},
{"f":0.29,"d":0.134,"d1":0.17,"d2":0.1,"d3":0.14,"d4":0.12,"l":0.134,"l1":0.18,"l2":0.1,"l3":0.14,"l4":0.14},
{"f":0.3,"d":0.127,"d1":0.16,"d2":0.095,"d3":0.13,"d4":0.14,"l":0.13,"l1":0.17,"l2":0.1,"l3":0.135,"l4":0.12},
{"f":0.31,"d":0.12,"d1":0.15,"d2":0.09,"d3":0.125,"d4":0.108,"l":0.12,"l1":0.155,"l2":0.092,"l3":0.125,"l4":0.13},
{"f":0.32,"d":0.113,"d1":0.14,"d2":0.085,"d3":0.12,"d4":0.125,"l":0.124,"l1":0.16,"l2":0.094,"l3":0.13,"l4":0.112},
{"f":0.33,"d":0.107,"d1":0.15,"d2":0.075,"d3":0.11,"d4":0.096,"l":0.107,"l1":0.14,"l2":0.082,"l3":0.112,"l4":0.115},
{"f":0.34,"d":0.101,"d1":0.14,"d2":0.06,"d3":0.105,"d4":0.112,"l":0.104,"l1":0.135,"l2":0.08,"l3":0.108,"l4":0.095},
{"f":0.35,"d":0.093,"d1":0.12,"d2":0.048,"d3":0.098,"d4":0.084,"l":0.096,"l1":0.125,"l2":0.074,"l3":0.1,"l4":0.104},
{"f":0.36,"d":0.085,"d1":0.11,"d2":0.055,"d3":0.09,"d4":0.094,"l":0.088,"l1":0.115,"l2":0.068,"l3":0.092,"l4":0.08},
{"f":0.37,"d":0.081,"d1":0.1,"d2":0.06,"d3":0.085,"d4":0.073,"l":0.081,"l1":0.105,"l2":0.063,"l3":0.085,"l4":0.089},
{"f":0.38,"d":0.074,"d1":0.092,"d2":0.056,"d3":0.078,"d4":0.081,"l":0.076,"l1":0.098,"l2":0.059,"l3":0.08,"l4":0.069},
{"f":0.39,"d":0.068,"d1":0.085,"d2":0.052,"d3":0.072,"d4":0.061,"l":0.07,"l1":0.09,"l2":0.055,"l3":0.074,"l4":0.077},
{"f":0.4,"d":0.064,"d1":0.08,"d2":0.049,"d3":0.067,"d4":0.07,"l":0.066,"l1":0.085,"l2":0.052,"l3":0.069,"l4":0.06},
{"f":0.42,"d":0.057,"d1":0.071,"d2":0.044,"d3":0.06,"d4":0.052,"l":0.06,"l1":0.077,"l2":0.047,"l3":0.063,"l4":0.066},
{"f":0.44,"d":0.051,"d1":0.064,"d2":0.039,"d3":0.054,"d4":0.056,"l":0.054,"l1":0.07,"l2":0.043,"l3":0.057,"l4":0.049},
{"f":0.46,"d":0.0457,"d1":0.057,"d2":0.035,"d3":0.048,"d4":0.041,"l":0.05,"l1":0.064,"l2":0.04,"l3":0.052,"l4":0.055},
{"f":0.48,"d":0.041,"d1":0.052,"d2":0.031,"d3":0.043,"d4":0.045,"l":0.045,"l1":0.058,"l2":0.036,"l3":0.047,"l4":0.041},
{"f":0.5,"d":0.0365,"d1":0.046,"d2":0.028,"d3":0.038,"d4":0.033,"l":0.04,"l1":0.052,"l2":0.032,"l3":0.042,"l4":0.044},
{"f":0.52,"d":0.0318,"d1":0.04,"d2":0.024,"d3":0.034,"d4":0.035,"l":0.0365,"l1":0.047,"l2":0.029,"l3":0.038,"l4":0.033},
{"f":0.54,"d":0.0284,"d1":0.036,"d2":0.021,"d3":0.03,"d4":0.026,"l":0.0325,"l1":0.042,"l2":0.026,"l3":0.034,"l4":0.036},
{"f":0.56,"d":0.0245,"d1":0.031,"d2":0.018,"d3":0.026,"d4":0.027,"l":0.0307,"l1":0.039,"l2":0.024,"l3":0.032,"l4":0.028},
{"f":0.58,"d":0.0207,"d1":0.026,"d2":0.015,"d3":0.022,"d4":0.019,"l":0.0274,"l1":0.035,"l2":0.021,"l3":0.029,"l4":0.03},
{"f":0.6,"d":0.0156,"d1":0.02,"d2":0.012,"d3":0.017,"d4":0.017,"l":0.0245,"l1":0.031,"l2":0.019,"l3":0.026,"l4":0.022},
{"f":0.61,"l":3.2e-3,"l1":3.8e-3,"l2":2.6e-3,"l3":3.4e-3,"l4":3e-3},
{"f":0.62,"d":0.0131,"d1":0.017,"d2":9.8e-3,"d3":0.014,"d4":0.012,"l":1e-7,"l1":1e-7,"l2":1e-7,"l3":1e-7,"l4":1e-7},
{"f":0.64,"d":0.011,"d1":0.0145,"d2":8.2e-3,"d3":0.012,"d4":0.0121},
{"f":0.66,"d":9.9e-3,"d1":0.013,"d2":7.4e-3,"d3":0.0105,"d4":9e-3},
{"f":0.68,"d":8.9e-3,"d1":0.0115,"d2":6.6e-3,"d3":9.5e-3,"d4":9.8e-3},
{"f":0.7,"d":7.9e-3,"d1":0.0102,"d2":5.9e-3,"d3":8.4e-3,"d4":7.1e-3},
{"f":0.72,"d":6.6e-3,"d1":8.6e-3,"d2":4.9e-3,"d3":7e-3,"d4":7.3e-3},
{"f":0.74,"d":5.9e-3,"d1":7.6e-3,"d2":4.4e-3,"d3":6.3e-3,"d4":5.3e-3},
{"f":0.76,"d":5.3e-3,"d1":6.9e-3,"d2":3.9e-3,"d3":5.6e-3,"d4":5.8e-3},
{"f":0.78,"d":4.7e-3,"d1":6.1e-3,"d2":3.5e-3,"d3":5e-3,"d4":4.3e-3},
{"f":0.8,"d":4.8e-3,"d1":6.2e-3,"d2":3.6e-3,"d3":5.1e-3,"d4":5.3e-3},
{"f":0.82,"d":4e-3,"d1":5.2e-3,"d2":3e-3,"d3":4.3e-3,"d4":3.6e-3},
{"f":0.84,"d":3.4e-3,"d1":4.5e-3,"d2":2.5e-3,"d3":3.7e-3,"d4":3.7e-3},
{"f":0.86,"d":3.2e-3,"d1":4.2e-3,"d2":2.4e-3,"d3":3.4e-3,"d4":2.9e-3},
{"f":0.88,"d":2.8e-3,"d1":3.7e-3,"d2":2.1e-3,"d3":3e-3,"d4":3.1e-3},
{"f":0.9,"d":2.6e-3,"d1":3.4e-3,"d2":1.9e-3,"d3":2.8e-3,"d4":2.35e-3},
{"f":0.92,"d":2.4e-3,"d1":3.1e-3,"d2":1.8e-3,"d3":2.6e-3,"d4":2.6e-3},
{"f":0.94,"d":2.1e-3,"d1":2.8e-3,"d2":1.55e-3,"d3":2.3e-3,"d4":1.9e-3},
{"f":0.96,"d":2e-3,"d1":2.6e-3,"d2":1.5e-3,"d3":2.15e-3,"d4":2.2e-3},
{"f":0.98,"d":1.8e-3,"d1":2.4e-3,"d2":1.3e-3,"d3":1.95e-3,"d4":1.62e-3},
{"f":1,"d":1.67e-3,"d1":2.2e-3,"d2":1.25e-3,"d3":1.8e-3,"d4":1.84e-3},
{"f":1.02,"d":1.5e-3,"d1":2e-3,"d2":1.1e-3,"d3":1.6e-3,"d4":1.35e-3},
{"f":1.04,"d":1.4e-3,"d1":1.85e-3,"d2":1.05e-3,"d3":1.5e-3,"d4":1.54e-3},
{"f":1.06,"d":1.29e-3,"d1":1.7e-3,"d2":9.5e-4,"d3":1.4e-3,"d4":1.16e-3},
{"f":1.08,"d":1.36e-3,"d1":1.8e-3,"d2":1e-3,"d3":1.45e-3,"d4":1.5e-3},
{"f":1.1,"d":1.15e-3,"d1":1.5e-3,"d2":8.5e-4,"d3":1.25e-3,"d4":1.04e-3},
{"f":1.12,"d":1.03e-3,"d1":1.35e-3,"d2":7.6e-4,"d3":1.1e-3,"d4":1.13e-3},
{"f":1.14,"d":9.7e-4,"d1":1.3e-3,"d2":7.2e-4,"d3":1.05e-3,"d4":8.7e-4},
{"f":1.16,"d":9.9e-4,"d1":1.3e-3,"d2":7.3e-4,"d3":1.07e-3,"d4":1.09e-3},
{"f":1.18,"d":8.6e-4,"d1":1.15e-3,"d2":6.3e-4,"d3":9.3e-4,"d4":7.7e-4},
{"f":1.2,"d":8.2e-4,"d1":1.1e-3,"d2":6e-4,"d3":8.8e-4,"d4":9e-4},
{"f":1.22,"d":7.8e-4,"d1":1.05e-3,"d2":5.7e-4,"d3":8.4e-4,"d4":7e-4},
{"f":1.24,"d":7.9e-4,"d1":1.05e-3,"d2":5.8e-4,"d3":8.5e-4,"d4":8.7e-4},
{"f":1.26,"d":7.1e-4,"d1":9.5e-4,"d2":5.2e-4,"d3":7.7e-4,"d4":6.4e-4},
{"f":1.28,"d":6.5e-4,"d1":8.7e-4,"d2":4.8e-4,"d3":7e-4,"d4":7.2e-4}
],
"d": [
{"f":0.05,"d":5.9e-3,"d1":8.5e-3,"d2":2.5e-3,"d3":4.5e-3,"d4":7e-3,"l":0.0117,"l1":0.014,"l2":9.5e-3,"l3":0.011,"l4":0.013},
{"f":0.06,"d":0.0195,"d1":0.03,"d2":0.012,"d3":0.016,"d4":0.022,"l":9.3e-3,"l1":0.012,"l2":6e-3,"l3":0.011,"l4":0.0105},
{"f":0.07,"d":0.0147,"d1":0.02,"d2":0.01,"d3":0.013,"d4":0.017,"l":7.4e-3,"l1":0.01,"l2":4.5e-3,"l3":9e-3,"l4":6.5e-3},
{"f":0.08,"d":0.0147,"d1":0.019,"d2":0.011,"d3":0.013,"d4":0.016,"l":7e-3,"l1":0.012,"l2":4.2e-3,"l3":8.5e-3,"l4":5.8e-3},
{"f":0.09,"d":0.026,"d1":0.034,"d2":0.02,"d3":0.023,"d4":0.028,"l":7.6e-3,"l1":0.012,"l2":3.6e-3,"l3":9.5e-3,"l4":6.5e-3},
{"f":0.1,"d":0.0344,"d1":0.04,"d2":0.026,"d3":0.032,"d4":0.037,"l":0.0124,"l1":0.02,"l2":6e-3,"l3":0.015,"l4":0.01},
{"f":0.11,"d":0.054,"d1":0.065,"d2":0.04,"d3":0.05,"d4":0.06,"l":0.029,"l1":0.05,"l2":0.014,"l3":0.035,"l4":0.024},
{"f":0.12,"d":0.142,"d1":0.2,"d2":0.075,"d3":0.12,"d4":0.16,"l":0.081,"l1":0.18,"l2":0.03,"l3":0.11,"l4":0.06},
{"f":0.13,"d":0.44,"d1":0.65,"d2":0.2,"d3":0.38,"d4":0.5,"l":0.297,"l1":0.65,"l2":0.1,"l3":0.4,"l4":0.22},
{"f":0.14,"d":1.16,"d1":1.6,"d2":0.55,"d3":1,"d4":1.3,"l":0.98,"l1":1.6,"l2":0.35,"l3":1.2,"l4":0.8},
{"f":0.15,"d":1.82,"d1":2.3,"d2":1.1,"d3":1.7,"d4":1.9,"l":1.82,"l1":2.5,"l2":0.9,"l3":2,"l4":1.6},
{"f":0.16,"d":2.04,"d1":2.3,"d2":1.6,"d3":2,"d4":2.1,"l":2.29,"l1":2.8,"l2":1.7,"l3":2.4,"l4":2.1},
{"f":0.17,"d":1.98,"d1":2.2,"d2":1.2,"d3":1.9,"d4":1.7,"l":2.16,"l1":2.6,"l2":1.8,"l3":2.1,"l4":2.3},
{"f":0.18,"d":1.45,"d1":1.7,"d2":1.1,"d3":1.4,"d4":1.55,"l":1.45,"l1":1.8,"l2":1.1,"l3":1.5,"l4":1.6},
{"f":0.19,"d":1.16,"d1":1.4,"d2":0.9,"d3":1.1,"d4":1.05,"l":1.16,"l1":1.4,"l2":0.85,"l3":1.2,"l4":1.25},
{"f":0.2,"d":0.92,"d1":1.1,"d2":0.7,"d3":0.95,"d4":1,"l":0.98,"l1":1.15,"l2":0.7,"l3":1,"l4":0.9},
{"f":0.21,"d":0.78,"d1":0.95,"d2":0.6,"d3":0.8,"d4":0.72,"l":0.85,"l1":1,"l2":0.62,"l3":0.88,"l4":0.92},
{"f":0.22,"d":0.695,"d1":0.85,"d2":0.52,"d3":0.72,"d4":0.76,"l":0.736,"l1":0.88,"l2":0.55,"l3":0.76,"l4":0.68},
{"f":0.23,"d":0.62,"d1":0.76,"d2":0.47,"d3":0.64,"d4":0.56,"l":0.635,"l1":0.77,"l2":0.48,"l3":0.66,"l4":0.69},
{"f":0.24,"d":0.567,"d1":0.7,"d2":0.43,"d3":0.58,"d4":0.62,"l":0.567,"l1":0.68,"l2":0.42,"l3":0.6,"l4":0.52},
{"f":0.25,"d":0.524,"d1":0.65,"d2":0.4,"d3":0.55,"d4":0.48,"l":0.495,"l1":0.6,"l2":0.36,"l3":0.52,"l4":0.54},
{"f":0.26,"d":0.484,"d1":0.8,"d2":0.37,"d3":0.5,"d4":0.53,"l":0.452,"l1":0.55,"l2":0.33,"l3":0.48,"l4":0.41},
{"f":0.27,"d":0.452,"d1":0.6,"d2":0.34,"d3":0.47,"d4":0.41,"l":0.418,"l1":0.52,"l2":0.3,"l3":0.44,"l4":0.45},
{"f":0.28,"d":0.432,"d1":0.55,"d2":0.3,"d3":0.45,"d4":0.47,"l":0.395,"l1":0.5,"l2":0.29,"l3":0.42,"l4":0.36},
{"f":0.29,"d":0.418,"d1":0.5,"d2":0.2,"d3":0.44,"d4":0.38,"l":0.373,"l1":0.47,"l2":0.27,"l3":0.39,"l4":0.4},
{"f":0.3,"d":0.395,"d1":0.48,"d2":0.14,"d3":0.42,"d4":0.43,"l":0.352,"l1":0.44,"l2":0.26,"l3":0.37,"l4":0.32},
{"f":0.31,"d":0.36,"d1":0.44,"d2":0.2,"d3":0.38,"d4":0.33,"l":0.333,"l1":0.42,"l2":0.24,"l3":0.35,"l4":0.36},
{"f":0.32,"d":0.333,"d1":0.42,"d2":0.24,"d3":0.35,"d4":0.36,"l":0.315,"l1":0.4,"l2":0.23,"l3":0.33,"l4":0.29},
{"f":0.33,"d":0.307,"d1":0.38,"d2":0.23,"d3":0.32,"d4":0.28,"l":0.281,"l1":0.35,"l2":0.21,"l3":0.3,"l4":0.3},
{"f":0.34,"d":0.281,"d1":0.35,"d2":0.21,"d3":0.3,"d4":0.31,"l":0.265,"l1":0.33,"l2":0.2,"l3":0.28,"l4":0.24},
{"f":0.35,"d":0.256,"d1":0.32,"d2":0.19,"d3":0.27,"d4":0.23,"l":0.237,"l1":0.3,"l2":0.18,"l3":0.25,"l4":0.25},
{"f":0.36,"d":0.229,"d1":0.3,"d2":0.17,"d3":0.24,"d4":0.25,"l":0.211,"l1":0.27,"l2":0.16,"l3":0.22,"l4":0.19},
{"f":0.37,"d":0.211,"d1":0.27,"d2":0.16,"d3":0.22,"d4":0.19,"l":0.195,"l1":0.25,"l2":0.15,"l3":0.21,"l4":0.21},
{"f":0.38,"d":0.189,"d1":0.24,"d2":0.14,"d3":0.2,"d4":0.21,"l":0.178,"l1":0.22,"l2":0.135,"l3":0.19,"l4":0.16},
{"f":0.39,"d":0.174,"d1":0.22,"d2":0.13,"d3":0.18,"d4":0.16,"l":0.168,"l1":0.21,"l2":0.125,"l3":0.18,"l4":0.18},
{"f":0.4,"d":0.159,"d1":0.2,"d2":0.12,"d3":0.165,"d4":0.175,"l":0.15,"l1":0.19,"l2":0.11,"l3":0.16,"l4":0.137},
{"f":0.42,"d":0.127,"d1":0.16,"d2":0.095,"d3":0.133,"d4":0.115,"l":0.113,"l1":0.14,"l2":0.085,"l3":0.12,"l4":0.12},
{"f":0.44,"d":0.101,"d1":0.13,"d2":0.075,"d3":0.106,"d4":0.11,"l":0.085,"l1":0.11,"l2":0.065,"l3":0.09,"l4":0.078},
{"f":0.46,"d":0.081,"d1":0.1,"d2":0.06,"d3":0.085,"d4":0.074,"l":0.072,"l1":0.092,"l2":0.055,"l3":0.077,"l4":0.078},
{"f":0.48,"d":0.064,"d1":0.08,"d2":0.047,"d3":0.067,"d4":0.07,"l":0.064,"l1":0.08,"l2":0.048,"l3":0.068,"l4":0.058},
{"f":0.5,"d":0.057,"d1":0.072,"d2":0.042,"d3":0.06,"d4":0.052,"l":0.051,"l1":0.064,"l2":0.039,"l3":0.054,"l4":0.055},
{"f":0.52,"d":0.0457,"d1":0.058,"d2":0.034,"d3":0.048,"d4":0.05,"l":0.0457,"l1":0.058,"l2":0.035,"l3":0.048,"l4":0.042},
{"f":0.54,"d":0.0385,"d1":0.049,"d2":0.028,"d3":0.04,"d4":0.035,"l":0.0365,"l1":0.046,"l2":0.028,"l3":0.039,"l4":0.039},
{"f":0.56,"d":0.0325,"d1":0.041,"d2":0.024,"d3":0.034,"d4":0.036,"l":0.0344,"l1":0.043,"l2":0.026,"l3":0.036,"l4":0.031},
{"f":0.58,"d":0.026,"d1":0.033,"d2":0.019,"d3":0.027,"d4":0.024,"l":0.026,"l1":0.033,"l2":0.02,"l3":0.028,"l4":0.028},
{"f":0.6,"d":0.0174,"d1":0.022,"d2":0.013,"d3":0.018,"d4":0.019,"l":0.0232,"l1":0.029,"l2":0.018,"l3":0.025,"l4":0.021},
{"f":0.61,"l":3.2e-3,"l1":3.8e-3,"l2":2.6e-3,"l3":3.4e-3,"l4":3e-3},
{"f":0.62,"d":0.0128,"d1":0.016,"d2":9.6e-3,"d3":0.0135,"d4":0.0117,"l":1e-7,"l1":1e-7,"l2":1e-7,"l3":1e-7,"l4":1e-7},
{"f":0.64,"d":0.0105,"d1":0.0135,"d2":7.8e-3,"d3":0.011,"d4":0.0115},
{"f":0.66,"d":8.9e-3,"d1":0.0115,"d2":6.6e-3,"d3":9.4e-3,"d4":8.1e-3},
{"f":0.68,"d":7.5e-3,"d1":9.7e-3,"d2":5.6e-3,"d3":7.9e-3,"d4":8.2e-3},
{"f":0.7,"d":6.6e-3,"d1":8.5e-3,"d2":4.9e-3,"d3":7e-3,"d4":6e-3},
{"f":0.72,"d":5.8e-3,"d1":7.5e-3,"d2":4.3e-3,"d3":6.1e-3,"d4":6.4e-3},
{"f":0.74,"d":5e-3,"d1":6.5e-3,"d2":3.7e-3,"d3":5.3e-3,"d4":4.6e-3},
{"f":0.76,"d":4.5e-3,"d1":5.8e-3,"d2":3.3e-3,"d3":4.8e-3,"d4":4.9e-3},
{"f":0.78,"d":4e-3,"d1":5.2e-3,"d2":3e-3,"d3":4.2e-3,"d4":3.65e-3},
{"f":0.8,"d":3.6e-3,"d1":4.7e-3,"d2":2.7e-3,"d3":3.8e-3,"d4":3.95e-3},
{"f":0.82,"d":3.2e-3,"d1":4.2e-3,"d2":2.4e-3,"d3":3.4e-3,"d4":2.9e-3},
{"f":0.84,"d":3e-3,"d1":3.9e-3,"d2":2.2e-3,"d3":3.2e-3,"d4":3.3e-3},
{"f":0.86,"d":2.5e-3,"d1":3.3e-3,"d2":1.85e-3,"d3":2.65e-3,"d4":2.3e-3},
{"f":0.88,"d":2.26e-3,"d1":2.9e-3,"d2":1.7e-3,"d3":2.4e-3,"d4":2.5e-3},
{"f":0.9,"d":2.14e-3,"d1":2.8e-3,"d2":1.6e-3,"d3":2.3e-3,"d4":1.95e-3},
{"f":0.92,"d":1.81e-3,"d1":2.4e-3,"d2":1.35e-3,"d3":1.9e-3,"d4":2e-3},
{"f":0.94,"d":1.68e-3,"d1":2.2e-3,"d2":1.25e-3,"d3":1.8e-3,"d4":1.53e-3},
{"f":0.96,"d":1.46e-3,"d1":1.9e-3,"d2":1.1e-3,"d3":1.55e-3,"d4":1.6e-3},
{"f":0.98,"d":1.35e-3,"d1":1.75e-3,"d2":1e-3,"d3":1.45e-3,"d4":1.23e-3},
{"f":1,"d":1.24e-3,"d1":1.6e-3,"d2":9.2e-4,"d3":1.3e-3,"d4":1.36e-3},
{"f":1.02,"d":1.13e-3,"d1":1.5e-3,"d2":8.4e-4,"d3":1.2e-3,"d4":1.03e-3},
{"f":1.04,"d":1.04e-3,"d1":1.35e-3,"d2":7.7e-4,"d3":1.1e-3,"d4":1.14e-3},
{"f":1.06,"d":9.6e-4,"d1":1.25e-3,"d2":7.1e-4,"d3":1.02e-3,"d4":8.8e-4},
{"f":1.08,"d":8.6e-4,"d1":1.12e-3,"d2":6.4e-4,"d3":9.2e-4,"d4":9.5e-4},
{"f":1.1,"d":8.2e-4,"d1":1.07e-3,"d2":6.1e-4,"d3":8.7e-4,"d4":7.5e-4},
{"f":1.12,"d":7.6e-4,"d1":9.9e-4,"d2":5.6e-4,"d3":8.1e-4,"d4":8.4e-4},
{"f":1.14,"d":6.9e-4,"d1":9e-4,"d2":5.1e-4,"d3":7.3e-4,"d4":6.3e-4},
{"f":1.16,"d":7.1e-4,"d1":9.3e-4,"d2":5.3e-4,"d3":7.5e-4,"d4":7.8e-4},
{"f":1.18,"d":6.1e-4,"d1":8e-4,"d2":4.5e-4,"d3":6.5e-4,"d4":5.6e-4},
{"f":1.2,"d":5.8e-4,"d1":7.6e-4,"d2":4.3e-4,"d3":6.2e-4,"d4":6.4e-4},
{"f":1.22,"d":5.5e-4,"d1":7.2e-4,"d2":4.1e-4,"d3":5.8e-4,"d4":5e-4},
{"f":1.24,"d":5.2e-4,"d1":6.8e-4,"d2":3.9e-4,"d3":5.5e-4,"d4":5.7e-4},
{"f":1.26,"d":5e-4,"d1":6.5e-4,"d2":3.7e-4,"d3":5.3e-4,"d4":4.6e-4},
{"f":1.28,"d":4.7e-4,"d1":6.1e-4,"d2":3.5e-4,"d3":5e-4,"d4":5.2e-4}
]
},
"concat": [
{
 "width": 405, "height": 305, "title": "a)",
 "resolve": {"axis": {"x": "independent", "y": "independent"}},
 "layer": [
  {
   "data": {"name": "a"},
   "transform": [{"fold": ["d","d1","d2","d3","d4","l","l1","l2","l3","l4"], "as": ["s","v"]}, {"filter": "isValid(datum.v)"}],
   "encoding": {
    "x": {"field": "f", "type": "quantitative", "scale": {"type": "log", "domain": [0.05, 1.28], "nice": false},
          "axis": {"values": [0.05,0.06,0.07,0.08,0.09,0.1,0.2,0.3,0.4,0.5,0.6,0.7,0.8,0.9,1], "labelExpr": "datum.value==0.1?'10⁻¹':datum.value==1?'10⁰':''", "title": "Frequency (Hz)",
                   "gridColor": {"condition": {"test": "datum.value==0.1||datum.value==1", "value": "#dcdcdc"}, "value": "#c4c4c4"},
                   "gridDash": {"condition": {"test": "datum.value==0.1||datum.value==1", "value": []}, "value": [1, 2]}}},
    "y": {"field": "v", "type": "quantitative", "scale": {"type": "log", "domain": [0.0001, 3], "nice": false},
          "axis": {"values": [0.0001,0.0002,0.0003,0.0004,0.0005,0.0006,0.0007,0.0008,0.0009,0.001,0.002,0.003,0.004,0.005,0.006,0.007,0.008,0.009,0.01,0.02,0.03,0.04,0.05,0.06,0.07,0.08,0.09,0.1,0.2,0.3,0.4,0.5,0.6,0.7,0.8,0.9,1,2,3], "labelExpr": "datum.value==0.0001?'10⁻⁴':datum.value==0.001?'10⁻³':datum.value==0.01?'10⁻²':datum.value==0.1?'10⁻¹':datum.value==1?'10⁰':''", "title": "Variance density (m²s)",
                   "gridColor": {"condition": {"test": "datum.value==0.0001||datum.value==0.001||datum.value==0.01||datum.value==0.1||datum.value==1", "value": "#dcdcdc"}, "value": "#c4c4c4"},
                   "gridDash": {"condition": {"test": "datum.value==0.0001||datum.value==0.001||datum.value==0.01||datum.value==0.1||datum.value==1", "value": []}, "value": [1, 2]}}},
    "detail": {"field": "s"},
    "color": {"condition": {"test": "indexof(datum.s,'d')==0", "value": "#0000ff"}, "value": "#000000"}
   },
   "layer": [
    {"transform": [{"filter": "length(datum.s)>1"}], "mark": {"type": "line", "strokeWidth": 1, "strokeDash": [1.2, 1.2], "clip": true}},
    {"transform": [{"filter": "length(datum.s)==1"}], "mark": {"type": "line", "strokeWidth": 2.8, "clip": true}}
   ]
  },
  {
   "data": {"values": [{"f": 0.3, "v": 0.76}, {"f": 1.23, "v": 0.00269}]},
   "mark": {"type": "line", "color": "#000000", "strokeWidth": 1.2, "strokeDash": [6, 4], "clip": true},
   "encoding": {
    "x": {"field": "f", "type": "quantitative", "axis": {"orient": "top", "values": [0.05,0.06,0.07,0.08,0.09,0.1,0.2,0.3,0.4,0.5,0.6,0.7,0.8,0.9,1], "labels": false, "grid": false, "title": null}},
    "y": {"field": "v", "type": "quantitative", "axis": {"orient": "right", "values": [0.0001,0.0002,0.0003,0.0004,0.0005,0.0006,0.0007,0.0008,0.0009,0.001,0.002,0.003,0.004,0.005,0.006,0.007,0.008,0.009,0.01,0.02,0.03,0.04,0.05,0.06,0.07,0.08,0.09,0.1,0.2,0.3,0.4,0.5,0.6,0.7,0.8,0.9,1,2,3], "labels": false, "grid": false, "title": null}}
   }
  },
  {
   "data": {"values": [{}]},
   "layer": [
    {"mark": {"type": "rect", "fill": "#ffffff", "stroke": "#000000", "strokeWidth": 1.2},
     "encoding": {"x": {"datum": 0.0746, "axis": null}, "x2": {"datum": 0.266}, "y": {"datum": 2.57, "axis": null}, "y2": {"datum": 0.0966}}},
    {"mark": {"type": "rect", "fill": "#ffffff"},
     "encoding": {"x": {"datum": 0.656, "axis": null}, "x2": {"datum": 0.925}, "y": {"datum": 0.17, "axis": null}, "y2": {"datum": 0.06}}},
    {"encoding": {"x": {"datum": 0.71, "axis": null}, "y": {"datum": 0.083, "axis": null}},
     "layer": [
      {"mark": {"type": "text", "text": "f", "fontStyle": "italic"}},
      {"mark": {"type": "text", "text": "−4", "fontSize": 12, "dx": 9, "dy": -8}}
     ]},
    {"encoding": {"x": {"datum": 0.0808, "axis": null}, "y": {"datum": 1.28, "axis": null}},
     "layer": [
      {"mark": {"type": "text", "text": ["WS=11 m/s", "WD=335", "DWR", "LP"], "lineHeight": 20}},
      {"mark": {"type": "text", "text": "o", "fontSize": 12, "fontStyle": "italic", "dx": 68, "dy": 13}},
      {"mark": {"type": "text", "text": "H", "fontStyle": "italic", "dx": 46.5, "dy": 40}},
      {"mark": {"type": "text", "text": "m₀", "fontSize": 12, "fontStyle": "italic", "dx": 61.5, "dy": 44}},
      {"mark": {"type": "text", "text": "=0.33 m", "dx": 76, "dy": 40}},
      {"mark": {"type": "text", "text": "H", "fontStyle": "italic", "dx": 25.5, "dy": 60}},
      {"mark": {"type": "text", "text": "m₀", "fontSize": 12, "fontStyle": "italic", "dx": 40.5, "dy": 64}},
      {"mark": {"type": "text", "text": "=0.38 m", "dx": 55, "dy": 60}}
     ]}
   ]
  }
 ]
},
{
 "width": 405, "height": 305, "title": "b)",
 "resolve": {"axis": {"x": "independent", "y": "independent"}},
 "layer": [
  {
   "data": {"name": "b"},
   "transform": [{"fold": ["d","d1","d2","d3","d4","l","l1","l2","l3","l4"], "as": ["s","v"]}, {"filter": "isValid(datum.v)"}],
   "encoding": {
    "x": {"field": "f", "type": "quantitative", "scale": {"type": "log", "domain": [0.05, 1.28], "nice": false},
          "axis": {"values": [0.05,0.06,0.07,0.08,0.09,0.1,0.2,0.3,0.4,0.5,0.6,0.7,0.8,0.9,1], "labelExpr": "datum.value==0.1?'10⁻¹':datum.value==1?'10⁰':''", "title": "Frequency (Hz)",
                   "gridColor": {"condition": {"test": "datum.value==0.1||datum.value==1", "value": "#dcdcdc"}, "value": "#c4c4c4"},
                   "gridDash": {"condition": {"test": "datum.value==0.1||datum.value==1", "value": []}, "value": [1, 2]}}},
    "y": {"field": "v", "type": "quantitative", "scale": {"type": "log", "domain": [0.0001, 3], "nice": false},
          "axis": {"values": [0.0001,0.0002,0.0003,0.0004,0.0005,0.0006,0.0007,0.0008,0.0009,0.001,0.002,0.003,0.004,0.005,0.006,0.007,0.008,0.009,0.01,0.02,0.03,0.04,0.05,0.06,0.07,0.08,0.09,0.1,0.2,0.3,0.4,0.5,0.6,0.7,0.8,0.9,1,2,3], "labelExpr": "datum.value==0.0001?'10⁻⁴':datum.value==0.001?'10⁻³':datum.value==0.01?'10⁻²':datum.value==0.1?'10⁻¹':datum.value==1?'10⁰':''", "title": "Variance density (m²s)",
                   "gridColor": {"condition": {"test": "datum.value==0.0001||datum.value==0.001||datum.value==0.01||datum.value==0.1||datum.value==1", "value": "#dcdcdc"}, "value": "#c4c4c4"},
                   "gridDash": {"condition": {"test": "datum.value==0.0001||datum.value==0.001||datum.value==0.01||datum.value==0.1||datum.value==1", "value": []}, "value": [1, 2]}}},
    "detail": {"field": "s"},
    "color": {"condition": {"test": "indexof(datum.s,'d')==0", "value": "#0000ff"}, "value": "#000000"}
   },
   "layer": [
    {"transform": [{"filter": "length(datum.s)>1"}], "mark": {"type": "line", "strokeWidth": 1, "strokeDash": [1.2, 1.2], "clip": true}},
    {"transform": [{"filter": "length(datum.s)==1"}], "mark": {"type": "line", "strokeWidth": 2.8, "clip": true}}
   ]
  },
  {
   "data": {"values": [{"f": 0.3, "v": 0.76}, {"f": 1.23, "v": 0.00269}]},
   "mark": {"type": "line", "color": "#000000", "strokeWidth": 1.2, "strokeDash": [6, 4], "clip": true},
   "encoding": {
    "x": {"field": "f", "type": "quantitative", "axis": {"orient": "top", "values": [0.05,0.06,0.07,0.08,0.09,0.1,0.2,0.3,0.4,0.5,0.6,0.7,0.8,0.9,1], "labels": false, "grid": false, "title": null}},
    "y": {"field": "v", "type": "quantitative", "axis": {"orient": "right", "values": [0.0001,0.0002,0.0003,0.0004,0.0005,0.0006,0.0007,0.0008,0.0009,0.001,0.002,0.003,0.004,0.005,0.006,0.007,0.008,0.009,0.01,0.02,0.03,0.04,0.05,0.06,0.07,0.08,0.09,0.1,0.2,0.3,0.4,0.5,0.6,0.7,0.8,0.9,1,2,3], "labels": false, "grid": false, "title": null}}
   }
  },
  {
   "data": {"values": [{}]},
   "layer": [
    {"mark": {"type": "rect", "fill": "#ffffff", "stroke": "#000000", "strokeWidth": 1.2},
     "encoding": {"x": {"datum": 0.14, "axis": null}, "x2": {"datum": 0.5}, "y": {"datum": 0.00508, "axis": null}, "y2": {"datum": 0.000192}}},
    {"mark": {"type": "rect", "fill": "#ffffff"},
     "encoding": {"x": {"datum": 0.656, "axis": null}, "x2": {"datum": 0.925}, "y": {"datum": 0.17, "axis": null}, "y2": {"datum": 0.06}}},
    {"encoding": {"x": {"datum": 0.71, "axis": null}, "y": {"datum": 0.083, "axis": null}},
     "layer": [
      {"mark": {"type": "text", "text": "f", "fontStyle": "italic"}},
      {"mark": {"type": "text", "text": "−4", "fontSize": 12, "dx": 9, "dy": -8}}
     ]},
    {"encoding": {"x": {"datum": 0.151, "axis": null}, "y": {"datum": 0.00256, "axis": null}},
     "layer": [
      {"mark": {"type": "text", "text": ["WS=12 m/s", "WD=95", "DWR", "LP"], "lineHeight": 20}},
      {"mark": {"type": "text", "text": "o", "fontSize": 12, "fontStyle": "italic", "dx": 59, "dy": 13}},
      {"mark": {"type": "text", "text": "H", "fontStyle": "italic", "dx": 46.5, "dy": 40}},
      {"mark": {"type": "text", "text": "m₀", "fontSize": 12, "fontStyle": "italic", "dx": 61.5, "dy": 44}},
      {"mark": {"type": "text", "text": "=0.94 m", "dx": 76, "dy": 40}},
      {"mark": {"type": "text", "text": "H", "fontStyle": "italic", "dx": 25.5, "dy": 60}},
      {"mark": {"type": "text", "text": "m₀", "fontSize": 12, "fontStyle": "italic", "dx": 40.5, "dy": 64}},
      {"mark": {"type": "text", "text": "=0.94 m", "dx": 55, "dy": 60}}
     ]}
   ]
  }
 ]
},
{
 "width": 405, "height": 303, "title": "c)",
 "resolve": {"axis": {"x": "independent", "y": "independent"}},
 "layer": [
  {
   "data": {"name": "c"},
   "transform": [{"fold": ["d","d1","d2","d3","d4","l","l1","l2","l3","l4"], "as": ["s","v"]}, {"filter": "isValid(datum.v)"}],
   "encoding": {
    "x": {"field": "f", "type": "quantitative", "scale": {"type": "log", "domain": [0.05, 1.28], "nice": false},
          "axis": {"values": [0.05,0.06,0.07,0.08,0.09,0.1,0.2,0.3,0.4,0.5,0.6,0.7,0.8,0.9,1], "labelExpr": "datum.value==0.1?'10⁻¹':datum.value==1?'10⁰':''", "title": "Frequency (Hz)",
                   "gridColor": {"condition": {"test": "datum.value==0.1||datum.value==1", "value": "#dcdcdc"}, "value": "#c4c4c4"},
                   "gridDash": {"condition": {"test": "datum.value==0.1||datum.value==1", "value": []}, "value": [1, 2]}}},
    "y": {"field": "v", "type": "quantitative", "scale": {"type": "log", "domain": [0.0001, 3], "nice": false},
          "axis": {"values": [0.0001,0.0002,0.0003,0.0004,0.0005,0.0006,0.0007,0.0008,0.0009,0.001,0.002,0.003,0.004,0.005,0.006,0.007,0.008,0.009,0.01,0.02,0.03,0.04,0.05,0.06,0.07,0.08,0.09,0.1,0.2,0.3,0.4,0.5,0.6,0.7,0.8,0.9,1,2,3], "labelExpr": "datum.value==0.0001?'10⁻⁴':datum.value==0.001?'10⁻³':datum.value==0.01?'10⁻²':datum.value==0.1?'10⁻¹':datum.value==1?'10⁰':''", "title": "Variance density (m²s)",
                   "gridColor": {"condition": {"test": "datum.value==0.0001||datum.value==0.001||datum.value==0.01||datum.value==0.1||datum.value==1", "value": "#dcdcdc"}, "value": "#c4c4c4"},
                   "gridDash": {"condition": {"test": "datum.value==0.0001||datum.value==0.001||datum.value==0.01||datum.value==0.1||datum.value==1", "value": []}, "value": [1, 2]}}},
    "detail": {"field": "s"},
    "color": {"condition": {"test": "indexof(datum.s,'d')==0", "value": "#0000ff"}, "value": "#000000"}
   },
   "layer": [
    {"transform": [{"filter": "length(datum.s)>1"}], "mark": {"type": "line", "strokeWidth": 1, "strokeDash": [1.2, 1.2], "clip": true}},
    {"transform": [{"filter": "length(datum.s)==1"}], "mark": {"type": "line", "strokeWidth": 2.8, "clip": true}}
   ]
  },
  {
   "data": {"values": [{"f": 0.3, "v": 0.76}, {"f": 1.23, "v": 0.00269}]},
   "mark": {"type": "line", "color": "#000000", "strokeWidth": 1.2, "strokeDash": [6, 4], "clip": true},
   "encoding": {
    "x": {"field": "f", "type": "quantitative", "axis": {"orient": "top", "values": [0.05,0.06,0.07,0.08,0.09,0.1,0.2,0.3,0.4,0.5,0.6,0.7,0.8,0.9,1], "labels": false, "grid": false, "title": null}},
    "y": {"field": "v", "type": "quantitative", "axis": {"orient": "right", "values": [0.0001,0.0002,0.0003,0.0004,0.0005,0.0006,0.0007,0.0008,0.0009,0.001,0.002,0.003,0.004,0.005,0.006,0.007,0.008,0.009,0.01,0.02,0.03,0.04,0.05,0.06,0.07,0.08,0.09,0.1,0.2,0.3,0.4,0.5,0.6,0.7,0.8,0.9,1,2,3], "labels": false, "grid": false, "title": null}}
   }
  },
  {
   "data": {"values": [{}]},
   "layer": [
    {"mark": {"type": "rect", "fill": "#ffffff", "stroke": "#000000", "strokeWidth": 1.2},
     "encoding": {"x": {"datum": 0.14, "axis": null}, "x2": {"datum": 0.5}, "y": {"datum": 0.00519, "axis": null}, "y2": {"datum": 0.000198}}},
    {"mark": {"type": "rect", "fill": "#ffffff"},
     "encoding": {"x": {"datum": 0.656, "axis": null}, "x2": {"datum": 0.925}, "y": {"datum": 0.17, "axis": null}, "y2": {"datum": 0.06}}},
    {"encoding": {"x": {"datum": 0.71, "axis": null}, "y": {"datum": 0.085, "axis": null}},
     "layer": [
      {"mark": {"type": "text", "text": "f", "fontStyle": "italic"}},
      {"mark": {"type": "text", "text": "−4", "fontSize": 12, "dx": 9, "dy": -8}}
     ]},
    {"encoding": {"x": {"datum": 0.151, "axis": null}, "y": {"datum": 0.00254, "axis": null}},
     "layer": [
      {"mark": {"type": "text", "text": ["WS=15 m/s", "WD=245", "DWR", "LP"], "lineHeight": 20}},
      {"mark": {"type": "text", "text": "o", "fontSize": 12, "fontStyle": "italic", "dx": 68, "dy": 13}},
      {"mark": {"type": "text", "text": "H", "fontStyle": "italic", "dx": 46.5, "dy": 40}},
      {"mark": {"type": "text", "text": "m₀", "fontSize": 12, "fontStyle": "italic", "dx": 61.5, "dy": 44}},
      {"mark": {"type": "text", "text": "=0.97 m", "dx": 76, "dy": 40}},
      {"mark": {"type": "text", "text": "H", "fontStyle": "italic", "dx": 25.5, "dy": 60}},
      {"mark": {"type": "text", "text": "m₀", "fontSize": 12, "fontStyle": "italic", "dx": 40.5, "dy": 64}},
      {"mark": {"type": "text", "text": "=0.97 m", "dx": 55, "dy": 60}}
     ]}
   ]
  }
 ]
},
{
 "width": 405, "height": 303, "title": "d)",
 "resolve": {"axis": {"x": "independent", "y": "independent"}},
 "layer": [
  {
   "data": {"name": "d"},
   "transform": [{"fold": ["d","d1","d2","d3","d4","l","l1","l2","l3","l4"], "as": ["s","v"]}, {"filter": "isValid(datum.v)"}],
   "encoding": {
    "x": {"field": "f", "type": "quantitative", "scale": {"type": "log", "domain": [0.05, 1.28], "nice": false},
          "axis": {"values": [0.05,0.06,0.07,0.08,0.09,0.1,0.2,0.3,0.4,0.5,0.6,0.7,0.8,0.9,1], "labelExpr": "datum.value==0.1?'10⁻¹':datum.value==1?'10⁰':''", "title": "Frequency (Hz)",
                   "gridColor": {"condition": {"test": "datum.value==0.1||datum.value==1", "value": "#dcdcdc"}, "value": "#c4c4c4"},
                   "gridDash": {"condition": {"test": "datum.value==0.1||datum.value==1", "value": []}, "value": [1, 2]}}},
    "y": {"field": "v", "type": "quantitative", "scale": {"type": "log", "domain": [0.0001, 3], "nice": false},
          "axis": {"values": [0.0001,0.0002,0.0003,0.0004,0.0005,0.0006,0.0007,0.0008,0.0009,0.001,0.002,0.003,0.004,0.005,0.006,0.007,0.008,0.009,0.01,0.02,0.03,0.04,0.05,0.06,0.07,0.08,0.09,0.1,0.2,0.3,0.4,0.5,0.6,0.7,0.8,0.9,1,2,3], "labelExpr": "datum.value==0.0001?'10⁻⁴':datum.value==0.001?'10⁻³':datum.value==0.01?'10⁻²':datum.value==0.1?'10⁻¹':datum.value==1?'10⁰':''", "title": "Variance density (m²s)",
                   "gridColor": {"condition": {"test": "datum.value==0.0001||datum.value==0.001||datum.value==0.01||datum.value==0.1||datum.value==1", "value": "#dcdcdc"}, "value": "#c4c4c4"},
                   "gridDash": {"condition": {"test": "datum.value==0.0001||datum.value==0.001||datum.value==0.01||datum.value==0.1||datum.value==1", "value": []}, "value": [1, 2]}}},
    "detail": {"field": "s"},
    "color": {"condition": {"test": "indexof(datum.s,'d')==0", "value": "#0000ff"}, "value": "#000000"}
   },
   "layer": [
    {"transform": [{"filter": "length(datum.s)>1"}], "mark": {"type": "line", "strokeWidth": 1, "strokeDash": [1.2, 1.2], "clip": true}},
    {"transform": [{"filter": "length(datum.s)==1"}], "mark": {"type": "line", "strokeWidth": 2.8, "clip": true}}
   ]
  },
  {
   "data": {"values": [{"f": 0.3, "v": 0.76}, {"f": 1.23, "v": 0.00269}]},
   "mark": {"type": "line", "color": "#000000", "strokeWidth": 1.2, "strokeDash": [6, 4], "clip": true},
   "encoding": {
    "x": {"field": "f", "type": "quantitative", "axis": {"orient": "top", "values": [0.05,0.06,0.07,0.08,0.09,0.1,0.2,0.3,0.4,0.5,0.6,0.7,0.8,0.9,1], "labels": false, "grid": false, "title": null}},
    "y": {"field": "v", "type": "quantitative", "axis": {"orient": "right", "values": [0.0001,0.0002,0.0003,0.0004,0.0005,0.0006,0.0007,0.0008,0.0009,0.001,0.002,0.003,0.004,0.005,0.006,0.007,0.008,0.009,0.01,0.02,0.03,0.04,0.05,0.06,0.07,0.08,0.09,0.1,0.2,0.3,0.4,0.5,0.6,0.7,0.8,0.9,1,2,3], "labels": false, "grid": false, "title": null}}
   }
  },
  {
   "data": {"values": [{}]},
   "layer": [
    {"mark": {"type": "rect", "fill": "#ffffff", "stroke": "#000000", "strokeWidth": 1.2},
     "encoding": {"x": {"datum": 0.14, "axis": null}, "x2": {"datum": 0.5}, "y": {"datum": 0.00519, "axis": null}, "y2": {"datum": 0.000198}}},
    {"mark": {"type": "rect", "fill": "#ffffff"},
     "encoding": {"x": {"datum": 0.656, "axis": null}, "x2": {"datum": 0.925}, "y": {"datum": 0.17, "axis": null}, "y2": {"datum": 0.06}}},
    {"encoding": {"x": {"datum": 0.71, "axis": null}, "y": {"datum": 0.085, "axis": null}},
     "layer": [
      {"mark": {"type": "text", "text": "f", "fontStyle": "italic"}},
      {"mark": {"type": "text", "text": "−4", "fontSize": 12, "dx": 9, "dy": -8}}
     ]},
    {"encoding": {"x": {"datum": 0.151, "axis": null}, "y": {"datum": 0.00254, "axis": null}},
     "layer": [
      {"mark": {"type": "text", "text": ["WS=20 m/s", "WD=205", "DWR", "LP"], "lineHeight": 20}},
      {"mark": {"type": "text", "text": "o", "fontSize": 12, "fontStyle": "italic", "dx": 68, "dy": 13}},
      {"mark": {"type": "text", "text": "H", "fontStyle": "italic", "dx": 46.5, "dy": 40}},
      {"mark": {"type": "text", "text": "m₀", "fontSize": 12, "fontStyle": "italic", "dx": 61.5, "dy": 44}},
      {"mark": {"type": "text", "text": "=1.70 m", "dx": 76, "dy": 40}},
      {"mark": {"type": "text", "text": "H", "fontStyle": "italic", "dx": 25.5, "dy": 60}},
      {"mark": {"type": "text", "text": "m₀", "fontSize": 12, "fontStyle": "italic", "dx": 40.5, "dy": 64}},
      {"mark": {"type": "text", "text": "=1.68 m", "dx": 55, "dy": 60}}
     ]}
   ]
  }
 ]
}
]
}
